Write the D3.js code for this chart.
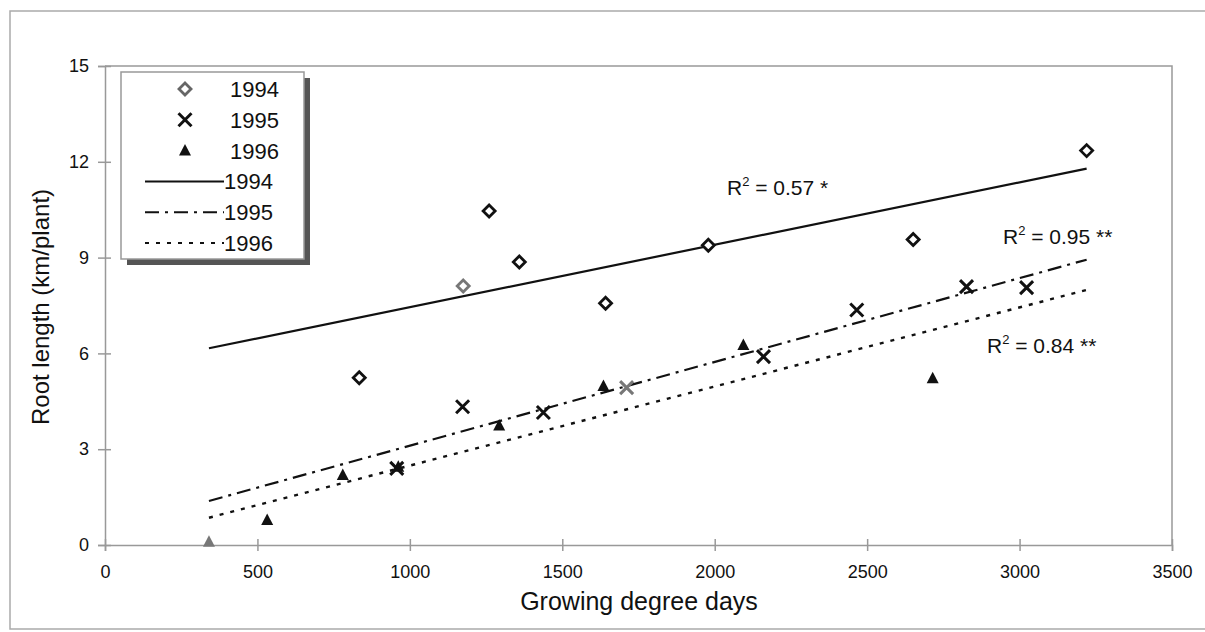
<!DOCTYPE html>
<html>
<head>
<meta charset="utf-8">
<script src="https://cdn.jsdelivr.net/npm/d3@7"></script>
<style>
  body { margin: 0; background: #fff; }
  text { font-family: "Liberation Sans", Arial, sans-serif; fill: #111; }
</style>
</head>
<body>
<div id="chart"></div>
<script>
// data
var gdd1994 = [834, 1175, 1260, 1359, 1642, 1979, 2651, 3220];
var root1994 = [5.24, 8.11, 10.46, 8.86, 7.57, 9.39, 9.57, 12.35];
var gdd1995 = [957, 1173, 1438, 1711, 2160, 2466, 2826, 3023];
var root1995 = [2.40, 4.33, 4.15, 4.93, 5.90, 7.36, 8.09, 8.06];
var gdd1996 = [341, 532, 780, 962, 1293, 1635, 2094, 2715];
var root1996 = [0.1, 0.78, 2.19, 2.45, 3.74, 4.98, 6.26, 5.22];
var years = ["1994", "1995", "1996"];
var rSquared = ["0.57 *", "0.95 **", "0.84 **"];
var xTicks = [0, 500, 1000, 1500, 2000, 2500, 3000, 3500];
var yTicks = [0, 3, 6, 9, 12, 15];

// points that look grey in the scan (series, index)
var greyPoints = [[0, 1], [1, 3], [2, 0]];

var W = 1205, H = 632;
var margin = {top: 66, right: 33, bottom: 87, left: 105};
var width = 1172 - margin.left;
var height = 545 - margin.top;

var svg = d3.select("#chart").append("svg")
    .attr("width", W)
    .attr("height", H);

// outer frame (left, top, bottom)
svg.append("path")
    .attr("d", "M1205,11H10V629H1205")
    .attr("fill", "none")
    .attr("stroke", "#aaa")
    .attr("stroke-width", 1.5);

var g = svg.append("g")
    .attr("transform", `translate(${margin.left},${margin.top})`);

var x = d3.scaleLinear().domain([0, 3500]).range([0, width]);
var y = d3.scaleLinear().domain([0, 15]).range([height, 0]);

// plot border top / right
g.append("path")
    .attr("d", `M0,0H${width}V${height}`)
    .attr("fill", "none")
    .attr("stroke", "#999")
    .attr("stroke-width", 1.5);

// x axis
var xAxis = g.append("g")
    .attr("transform", "translate(0," + height + ")")
    .call(d3.axisBottom(x).tickValues(xTicks).tickFormat(d3.format("d")).tickSize(6).tickPadding(14));
xAxis.select(".domain").attr("stroke", "#999").attr("stroke-width", 1.5);
xAxis.selectAll(".tick line").attr("stroke", "#999").attr("stroke-width", 1.5).attr("y1", -6);
xAxis.selectAll(".tick text")
    .style("font-size", "18px")
    .style("font-family", "Liberation Sans, Arial, sans-serif")
    .attr("fill", "#222");

// y axis
var yAxis = g.append("g")
    .call(d3.axisLeft(y).tickValues(yTicks).tickSize(7).tickPadding(9));
yAxis.select(".domain").attr("stroke", "#999").attr("stroke-width", 1.5);
yAxis.selectAll(".tick line").attr("stroke", "#999").attr("stroke-width", 1.5).attr("x1", 6);
yAxis.selectAll(".tick text")
    .style("font-size", "18px")
    .style("font-family", "Liberation Sans, Arial, sans-serif")
    .attr("fill", "#222");

// axis titles
svg.append("text")
    .attr("x", 639)
    .attr("y", 610)
    .attr("text-anchor", "middle")
    .style("font-size", "25px")
    .text("Growing degree days");

svg.append("text")
    .attr("transform", "translate(49,307) rotate(-90)")
    .attr("text-anchor", "middle")
    .style("font-size", "24px")
    .text("Root length (km/plant)");

// series
var series = [
    {gdd: gdd1994, root: root1994},
    {gdd: gdd1995, root: root1995},
    {gdd: gdd1996, root: root1996}
];

// least squares fit per year, drawn over the range of all data
var allX = gdd1994.concat(gdd1995, gdd1996);
var xMin = d3.min(allX), xMax = d3.max(allX);
function fit(xs, ys) {
    var mx = d3.mean(xs), my = d3.mean(ys);
    var sxy = d3.sum(xs, function(v, i) { return (v - mx) * (ys[i] - my); });
    var sxx = d3.sum(xs, function(v) { return (v - mx) * (v - mx); });
    var b = sxy / sxx;
    return {a: my - b * mx, b: b};
}

var dashes = [null, "14,6,3,6", "4,7"];
var line = d3.line()
    .x(function(d) { return x(d[0]); })
    .y(function(d) { return y(d[1]); });

series.forEach(function(s, k) {
    var f = fit(s.gdd, s.root);
    g.append("path")
        .datum([[xMin, f.a + f.b * xMin], [xMax, f.a + f.b * xMax]])
        .attr("d", line)
        .attr("fill", "none")
        .attr("stroke", "#111")
        .attr("stroke-width", k == 2 ? 2.4 : 2.2)
        .attr("stroke-dasharray", dashes[k]);
});

// marker drawers
function isGrey(k, i) {
    return greyPoints.some(function(p) { return p[0] == k && p[1] == i; });
}
function drawMarker(sel, k, colour) {
    if (k == 0) {
        sel.append("path")
            .attr("d", "M0,-6L6,0L0,6L-6,0Z")
            .attr("fill", "#fff")
            .attr("stroke", colour)
            .attr("stroke-width", 2.8);
    } else if (k == 1) {
        sel.append("path")
            .attr("d", "M-6.5,-6.5L6.5,6.5M-6.5,6.5L6.5,-6.5")
            .attr("fill", "none")
            .attr("stroke", colour)
            .attr("stroke-width", 3);
    } else {
        sel.append("path")
            .attr("d", "M0,-6.5L6,5L-6,5Z")
            .attr("fill", colour);
    }
}

series.forEach(function(s, k) {
    g.selectAll(".pt" + k)
        .data(s.gdd)
        .enter().append("g")
        .attr("class", "pt" + k)
        .attr("transform", function(d, i) { return `translate(${x(d)},${y(s.root[i])})`; })
        .each(function(d, i) {
            drawMarker(d3.select(this), k, isGrey(k, i) ? "#777" : "#111");
        });
});

// R squared labels
var rPos = [[727, 195], [1003, 244], [987, 353]];
rSquared.forEach(function(r, k) {
    var t = svg.append("text")
        .attr("x", rPos[k][0])
        .attr("y", rPos[k][1])
        .style("font-size", "21px")
        .attr("fill", "#222");
    t.append("tspan").text("R");
    t.append("tspan").attr("dy", -9).style("font-size", "13px").text("2");
    t.append("tspan").attr("dy", 9).text(" = " + r);
});

// legend
var lx = 121, ly = 72, lw = 183, lh = 187;
svg.append("rect")
    .attr("x", lx + 6).attr("y", ly + 6)
    .attr("width", lw).attr("height", lh)
    .attr("fill", "#555");
svg.append("rect")
    .attr("x", lx).attr("y", ly)
    .attr("width", lw).attr("height", lh)
    .attr("fill", "#fff")
    .attr("stroke", "#999")
    .attr("stroke-width", 1.5);

var rowH = 30.8;
years.forEach(function(yr, k) {
    var row = svg.append("g")
        .attr("transform", `translate(${lx + 64},${ly + 17 + k * rowH})`);
    drawMarker(row, k, k == 0 ? "#666" : "#111");
    svg.append("text")
        .attr("x", lx + 109)
        .attr("y", ly + 17 + k * rowH + 8)
        .style("font-size", "22px")
        .text(yr);
});
years.forEach(function(yr, k) {
    var yy = ly + 17 + (k + 3) * rowH;
    svg.append("line")
        .attr("x1", lx + 24).attr("x2", lx + 103)
        .attr("y1", yy).attr("y2", yy)
        .attr("stroke", "#111")
        .attr("stroke-width", 2)
        .attr("stroke-dasharray", dashes[k]);
    svg.append("text")
        .attr("x", lx + 103)
        .attr("y", yy + 8)
        .style("font-size", "22px")
        .text(yr);
});
</script>
</body>
</html>
